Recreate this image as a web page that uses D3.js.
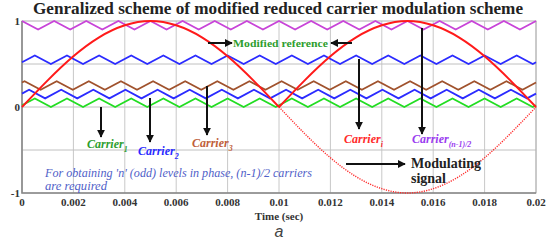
<!DOCTYPE html>
<html>
<head>
<meta charset="utf-8">
<script src="https://cdn.jsdelivr.net/npm/d3@7"></script>
<style>
  body { margin: 0; background: #fff; }
</style>
</head>
<body>
<svg id="canvas"></svg>
<script>
let width = 548, height = 243
const serif = "'Liberation Serif', 'DejaVu Serif', serif"

// x ticks (seconds) and y ticks
const xTicks = [0, 0.002, 0.004, 0.006, 0.008, 0.01, 0.012, 0.014, 0.016, 0.018, 0.02]
const xTickLabels = ["0", "0.002", "0.004", "0.006", "0.008", "0.01", "0.012", "0.014", "0.016", "0.018", "0.02"]
const yTicks = [1, 0, -1]
const yGrid = [0.5, 0, -0.5]

// reference every 1 ms
const refTimes = [0, 0.001, 0.002, 0.003, 0.004, 0.005, 0.006, 0.007, 0.008, 0.009, 0.01]
const refFirstHalf = [0, 0.31, 0.59, 0.81, 0.95, 1, 0.95, 0.81, 0.59, 0.31, 0]
const refSecondTimes = [0.01, 0.011, 0.012, 0.013, 0.014, 0.015, 0.016, 0.017, 0.018, 0.019, 0.02]
const refSecondHalf = [0, 0.31, 0.59, 0.81, 0.95, 1, 0.95, 0.81, 0.59, 0.31, 0]
const modSecondHalf = [0, -0.31, -0.59, -0.81, -0.95, -1, -0.95, -0.81, -0.59, -0.31, 0]

// carriers: lower level of each band, colour, time of first peak (fraction of period)
const carrierLows = [0, 0.1, 0.2, 0.5, 0.9]
const carrierColors = ["#22dd22", "#2b2bff", "#a0522d", "#2b2bff", "#c844d8"]
const carrierPeak = [0.4, 0.22, 0.08, 0.4, 0.0]
const carrierHeight = 0.1
const carrierPeriod = 0.00125

let svg = d3.select('#canvas').attr("width", width).attr("height", height)

let x = d3.scaleLinear().domain([0, 0.02]).range([22, 536])
let y = d3.scaleLinear().domain([-1, 1]).range([193, 21])

// grid
svg.selectAll(".vgrid").data(xTicks).enter().append("line")
  .attr("x1", d => x(d)).attr("x2", d => x(d))
  .attr("y1", y(1)).attr("y2", y(-1))
  .style("stroke", "#c8c8c8").style("stroke-width", 1)
svg.selectAll(".hgrid").data(yGrid).enter().append("line")
  .attr("x1", x(0)).attr("x2", x(0.02))
  .attr("y1", d => y(d)).attr("y2", d => y(d))
  .style("stroke", "#c0c0c0").style("stroke-width", 1)
svg.append("rect")
  .attr("x", x(0)).attr("y", y(1))
  .attr("width", x(0.02) - x(0)).attr("height", y(-1) - y(1))
  .style("fill", "none").style("stroke", "#b0b0b0")
svg.append("path")
  .attr("d", `M${x(0)},${y(1)}V${y(-1)}H${x(0.02)}`)
  .style("fill", "none").style("stroke", "#888").style("stroke-width", 1.5)

// helper for serif text
let txt = (px, py, s, size, color) => svg.append("text").attr("x", px).attr("y", py)
  .attr("font-family", serif).style("font-family", serif)
  .style("font-size", size + "px").style("fill", color).text(s)

// tick labels
xTicks.forEach((d, i) => txt(x(d), 206, xTickLabels[i], 11, "#333")
  .attr("text-anchor", "middle").style("font-weight", "bold"))
yTicks.forEach(d => txt(20, y(d) + 4, d, 11, "#333")
  .attr("text-anchor", "end").style("font-weight", "bold"))

txt(279, 220, "Time (sec)", 11, "#333").attr("text-anchor", "middle").style("font-weight", "bold")
svg.append("text").attr("x", 279).attr("y", 237).attr("text-anchor", "middle")
  .style("font-family", "'Liberation Sans', Arial, sans-serif")
  .style("font-size", "16px").style("font-style", "italic").style("fill", "#444")
  .text("a")

// title
txt(278, 14, "Genralized scheme of modified reduced carrier modulation scheme", 16, "#222")
  .attr("text-anchor", "middle").style("font-weight", "bold")
  .attr("textLength", 490).attr("lengthAdjust", "spacingAndGlyphs")

// carriers
let line = d3.line().x(d => x(d[0])).y(d => y(d[1]))
carrierLows.forEach((low, i) => {
  let t0 = carrierPeak[i] * carrierPeriod - carrierPeriod
  let verts = d3.range(t0, 0.02 + carrierPeriod, carrierPeriod / 2)
  let vals = verts.map((t, k) => [t, k % 2 == 0 ? low + carrierHeight : low])
  // clip to the time span
  let clipped = []
  for (let k = 0; k < vals.length - 1; k++) {
    let [ta, va] = vals[k], [tb, vb] = vals[k + 1]
    if (tb < 0 || ta > 0.02) continue
    let a = Math.max(ta, 0), b = Math.min(tb, 0.02)
    let f = t => va + (vb - va) * (t - ta) / (tb - ta)
    if (clipped.length == 0) clipped.push([a, f(a)])
    clipped.push([b, f(b)])
  }
  svg.append("path").attr("d", line(clipped))
    .style("fill", "none").style("stroke", carrierColors[i]).style("stroke-width", 1.8)
})

// modulating signal (dotted negative half)
let smooth = d3.line().x(d => x(d[0])).y(d => y(d[1])).curve(d3.curveNatural)
svg.append("path").attr("d", smooth(refSecondTimes.map((t, i) => [t, modSecondHalf[i]])))
  .style("fill", "none").style("stroke", "#ff2a2a").style("stroke-width", 1.4)
  .style("stroke-dasharray", "1.2,1.2")

// modified reference
svg.append("path").attr("d", smooth(refTimes.map((t, i) => [t, refFirstHalf[i]])))
  .style("fill", "none").style("stroke", "#ff1a1a").style("stroke-width", 2)
svg.append("path").attr("d", smooth(refSecondTimes.map((t, i) => [t, refSecondHalf[i]])))
  .style("fill", "none").style("stroke", "#ff1a1a").style("stroke-width", 2)

// arrows
let defs = svg.append("defs")
defs.append("marker").attr("id", "ah").attr("viewBox", "0 0 10 10")
  .attr("refX", 9).attr("refY", 5).attr("markerWidth", 4).attr("markerHeight", 4)
  .attr("orient", "auto")
  .append("path").attr("d", "M0,0L10,5L0,10z").style("fill", "#111")

const arrows = [
  [101, 107, 101, 137], [150, 98, 150, 142], [207, 86, 207, 135],
  [359, 59, 359, 129], [422, 28, 422, 134],
  [346, 164, 405, 164], [208, 43, 232, 43], [352, 43, 331, 43]
]
svg.selectAll(".arrow").data(arrows).enter().append("line")
  .attr("x1", d => d[0]).attr("y1", d => d[1]).attr("x2", d => d[2]).attr("y2", d => d[3])
  .style("stroke", "#111").style("stroke-width", 2)
  .attr("marker-end", "url(#ah)")

// labels
txt(233, 47, "Modified reference", 11, "#2e9e2e").style("font-weight", "bold")
  .attr("textLength", 95).attr("lengthAdjust", "spacingAndGlyphs")

const carrierLabels = [
  { x: 87, y: 148, color: "#2e9e2e", sub: "1" },
  { x: 138, y: 155, color: "#2b2bff", sub: "2" },
  { x: 192, y: 147, color: "#c0603a", sub: "3" },
  { x: 344, y: 143, color: "#ff2a2a", sub: "i" },
  { x: 412, y: 143, color: "#9a3cf0", sub: "(n-1)/2" }
]
carrierLabels.forEach(c => {
  let t = txt(c.x, c.y, null, 12, c.color).style("font-weight", "bold").style("font-style", "italic")
  t.append("tspan").text("Carrier")
  t.append("tspan").attr("dy", 4).style("font-size", "8px").text(c.sub)
})

txt(411, 168, "Modulating", 14, "#222").style("font-weight", "bold")
txt(411, 183, "signal", 14, "#222").style("font-weight", "bold")

txt(45, 177, "For obtaining 'n' (odd) levels in phase, (n-1)/2 carriers", 11.5, "#5060c8")
  .style("font-style", "italic")
  .attr("textLength", 267).attr("lengthAdjust", "spacingAndGlyphs")
txt(45, 190, "are required", 11.5, "#5060c8").style("font-style", "italic")
  .attr("textLength", 62).attr("lengthAdjust", "spacingAndGlyphs")
</script>
</body>
</html>
